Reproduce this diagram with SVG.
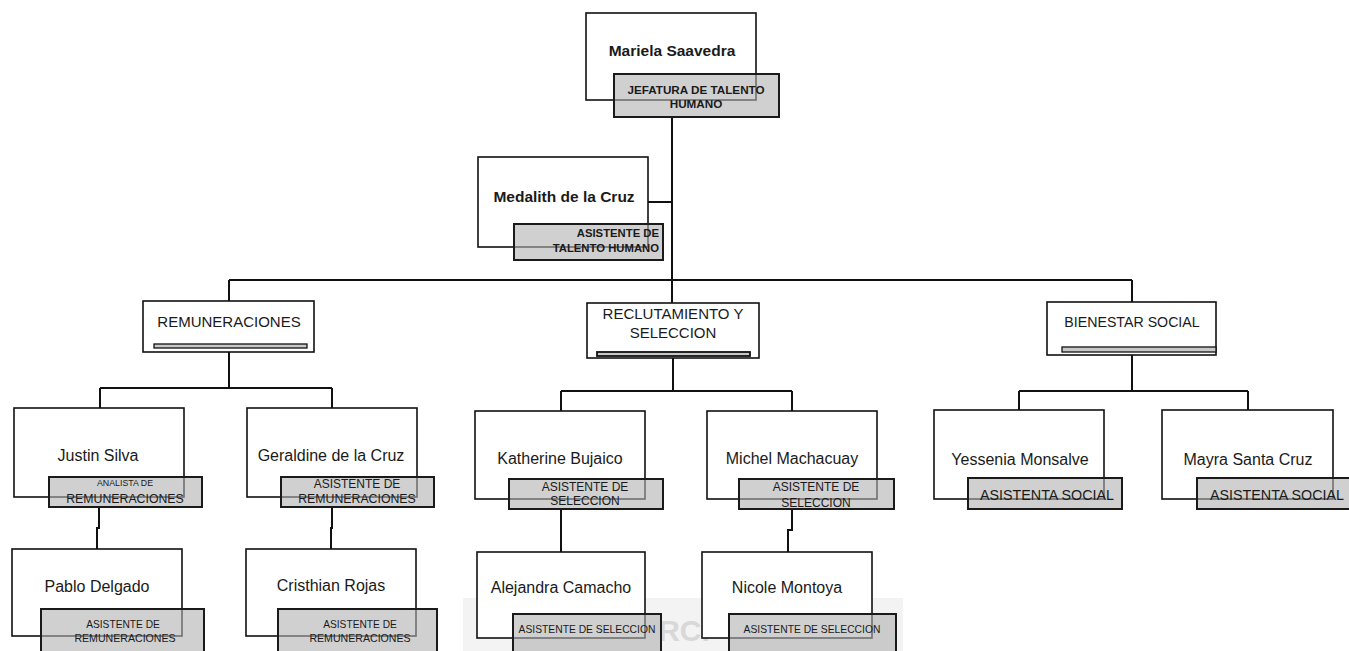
<svg xmlns="http://www.w3.org/2000/svg" width="1349" height="651" viewBox="0 0 1349 651">
<defs>
<style>
.bg{fill:#ffffff}
.box{fill:#ffffff;stroke:#111;stroke-width:1.6}
.lab{fill:#b0b0b0;fill-opacity:0.6;stroke:#1a1a1a;stroke-width:2}
.bar{fill:#c8c8c8;stroke:#111;stroke-width:1.3}
.con{fill:none;stroke:#111;stroke-width:2}
text{font-family:"Liberation Sans",Arial,sans-serif;fill:#1a1a1a;text-anchor:middle}
.bn{font-size:15.5px;font-weight:bold}
.nm{font-size:16px}
.hd{font-size:15px}
.lb{font-weight:bold;font-size:11.7px}
.wm{fill:#f3f3f3}
</style>
</defs>
<rect class="bg" x="0" y="0" width="1349" height="651"/>
<g id="watermark">
<rect class="wm" x="463" y="598" width="440" height="53"/>
<text x="684" y="641" style="font-size:30px;font-weight:bold;fill:#d8d8d8">RCI</text>
</g>
<g id="connectors">
<path class="con" d="M672,117 V281"/>
<path class="con" d="M648,202 H672"/>
<path class="con" d="M229,280 H1132"/>
<path class="con" d="M229,280 V301 M672,280 V303 M1132,280 V302"/>
<path class="con" d="M229,352 V388 M100,388 H332 M100,388 V408 M332,388 V408"/>
<path class="con" d="M673,358 V391 M561,391 H792 M561,391 V411 M792,391 V411"/>
<path class="con" d="M1132,355 V391 M1019,391 H1248 M1019,391 V410 M1248,391 V410"/>
<path class="con" d="M99,507 V528 H97 V549"/>
<path class="con" d="M332,507 V528 H331 V549"/>
<path class="con" d="M561,509 V552"/>
<path class="con" d="M792,509 V530 H788 V552"/>
</g>
<g id="mariela">
<rect class="box" x="586" y="13" width="170" height="87"/>
<text class="bn" x="672" y="56">Mariela Saavedra</text>
<rect class="lab" x="614" y="74" width="165" height="43"/>
<text class="lb" x="696" y="94">JEFATURA DE TALENTO</text>
<text class="lb" x="696" y="108">HUMANO</text>
</g>
<g id="medalith">
<rect class="box" x="478" y="157" width="170" height="90"/>
<text class="bn" x="564" y="202">Medalith de la Cruz</text>
<rect class="lab" x="514" y="224" width="149" height="36"/>
<text class="lb" x="659" y="237" style="text-anchor:end;font-size:11.3px">ASISTENTE DE</text>
<text class="lb" x="659" y="252" style="text-anchor:end;font-size:11.3px">TALENTO HUMANO</text>
</g>
<g id="remuneraciones">
<rect class="box" x="143" y="301" width="171" height="51"/>
<text class="hd" x="229" y="327">REMUNERACIONES</text>
<rect class="bar" x="154" y="344" width="153" height="4"/>
</g>
<g id="reclutamiento">
<rect class="box" x="587" y="303" width="172" height="55"/>
<text class="hd" x="673" y="319">RECLUTAMIENTO Y</text>
<text class="hd" x="673" y="338">SELECCION</text>
<rect class="bar" x="597" y="352" width="153" height="4" style="stroke-width:1.8"/>
</g>
<g id="bienestar">
<rect class="box" x="1047" y="302" width="169" height="53"/>
<text class="hd" x="1132" y="327" style="font-size:14.2px">BIENESTAR SOCIAL</text>
<rect class="bar" x="1062" y="347" width="154" height="5"/>
</g>
<g id="justin">
<rect class="box" x="14" y="408" width="170" height="89"/>
<text class="nm" x="98" y="461">Justin Silva</text>
<rect class="lab" x="49" y="477" width="153" height="30"/>
<text x="125" y="486" style="font-size:8.8px">ANALISTA DE</text>
<text x="125" y="503" style="font-size:12.3px">REMUNERACIONES</text>
</g>
<g id="geraldine">
<rect class="box" x="247" y="408" width="170" height="89"/>
<text class="nm" x="331" y="461">Geraldine de la Cruz</text>
<rect class="lab" x="281" y="477" width="153" height="30"/>
<text x="357" y="488" style="font-size:12px">ASISTENTE DE</text>
<text x="357" y="503" style="font-size:12.3px">REMUNERACIONES</text>
</g>
<g id="katherine">
<rect class="box" x="475" y="411" width="170" height="88"/>
<text class="nm" x="560" y="464">Katherine Bujaico</text>
<rect class="lab" x="509" y="479" width="154" height="30"/>
<text x="585" y="491" style="font-size:12px">ASISTENTE DE</text>
<text x="585" y="505" style="font-size:12px">SELECCION</text>
</g>
<g id="michel">
<rect class="box" x="707" y="411" width="170" height="88"/>
<text class="nm" x="792" y="464">Michel Machacuay</text>
<rect class="lab" x="739" y="479" width="155" height="30"/>
<text x="816" y="491" style="font-size:12px">ASISTENTE DE</text>
<text x="816" y="507" style="font-size:12px">SELECCION</text>
</g>
<g id="yessenia">
<rect class="box" x="934" y="410" width="170" height="89"/>
<text class="nm" x="1020" y="465">Yessenia Monsalve</text>
<rect class="lab" x="968" y="478" width="154" height="31"/>
<text x="1047" y="500" style="font-size:14.3px">ASISTENTA SOCIAL</text>
</g>
<g id="mayra">
<rect class="box" x="1162" y="410" width="171" height="89"/>
<text class="nm" x="1248" y="465">Mayra Santa Cruz</text>
<rect class="lab" x="1197" y="478" width="154" height="31"/>
<text x="1277" y="500" style="font-size:14.3px">ASISTENTA SOCIAL</text>
</g>
<g id="pablo">
<rect class="box" x="12" y="549" width="170" height="87"/>
<text class="nm" x="97" y="592">Pablo Delgado</text>
<rect class="lab" x="41" y="609" width="163" height="50"/>
<text x="123" y="628" style="font-size:10.2px">ASISTENTE DE</text>
<text x="125" y="642" style="font-size:10.6px">REMUNERACIONES</text>
</g>
<g id="cristhian">
<rect class="box" x="246" y="549" width="170" height="87"/>
<text class="nm" x="331" y="591">Cristhian Rojas</text>
<rect class="lab" x="278" y="609" width="159" height="50"/>
<text x="360" y="628" style="font-size:10.2px">ASISTENTE DE</text>
<text x="360" y="642" style="font-size:10.6px">REMUNERACIONES</text>
</g>
<g id="alejandra">
<rect class="box" x="477" y="552" width="168" height="86"/>
<text class="nm" x="561" y="593">Alejandra Camacho</text>
<rect class="lab" x="513" y="614" width="148" height="45"/>
<text x="587" y="633" style="font-size:10.3px">ASISTENTE DE SELECCION</text>
</g>
<g id="nicole">
<rect class="box" x="702" y="552" width="170" height="86"/>
<text class="nm" x="787" y="593">Nicole Montoya</text>
<rect class="lab" x="729" y="614" width="167" height="45"/>
<text x="812" y="633" style="font-size:10.3px">ASISTENTE DE SELECCION</text>
</g>
</svg>
